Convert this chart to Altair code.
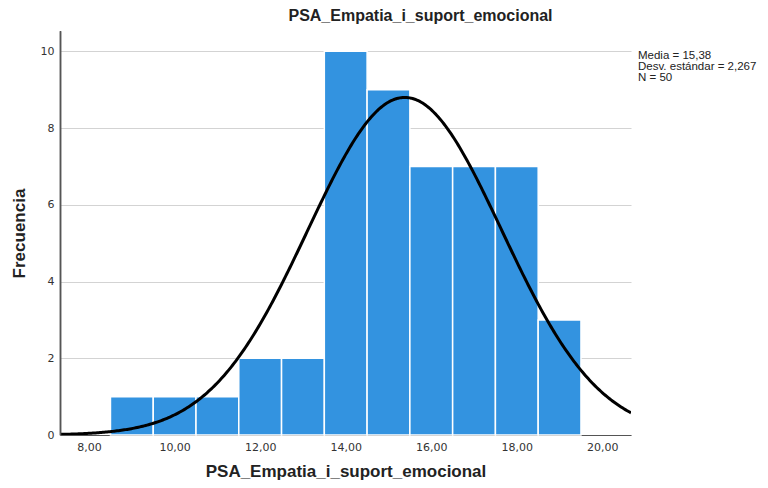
import altair as alt
import pandas as pd

bin_start = [8.5, 9.5, 10.5, 11.5, 12.5, 13.5, 14.5, 15.5, 16.5, 17.5, 18.5]
bin_end = [9.5, 10.5, 11.5, 12.5, 13.5, 14.5, 15.5, 16.5, 17.5, 18.5, 19.5]
counts = [1, 1, 1, 2, 2, 10, 9, 7, 7, 7, 3]
x_ticks = [8, 10, 12, 14, 16, 18, 20]
y_ticks = [0, 2, 4, 6, 8, 10]
mean_val = 15.38
sd_val = 2.267
n_val = 50
bin_width = 1.0
stats_lines = ["Media = 15,38", "Desv. estándar = 2,267", "N = 50"]

x_dom = [7.32, 20.67]
y_dom = [0, 10.53]

bars_df = pd.DataFrame({"a": bin_start, "b": bin_end, "c": counts})

xs = alt.Scale(domain=x_dom, nice=False, zero=False)
ys = alt.Scale(domain=y_dom, nice=False)

x_axis = alt.Axis(values=x_ticks, labelExpr="replace(format(datum.value, '.2f'), '.', ',')",
                  grid=False, ticks=False, domain=True, domainColor="#555555", domainWidth=1.2,
                  labelColor="#333333", labelFont="DejaVu Sans", labelFontSize=11, labelPadding=6,
                  title="PSA_Empatia_i_suport_emocional", titleFont="Liberation Sans",
                  titleFontSize=17, titleFontWeight="bold", titleColor="#222222", titlePadding=11)
y_axis = alt.Axis(values=y_ticks, grid=True, gridColor="#d3d3d3", gridWidth=1.2, ticks=False,
                  domain=True, domainColor="#555555", domainWidth=1.5, labelColor="#333333",
                  labelFont="DejaVu Sans", labelFontSize=11, labelPadding=6, title="Frecuencia",
                  titleFont="Liberation Sans", titleFontSize=17, titleFontWeight="bold",
                  titleColor="#222222", titlePadding=12)

bars = alt.Chart(bars_df).mark_bar(color="#3393e0", stroke="white", strokeWidth=1.5).encode(
    x=alt.X("a:Q", scale=xs, axis=x_axis),
    x2="b:Q",
    y=alt.Y("c:Q", scale=ys, axis=y_axis),
    y2=alt.datum(0),
)

curve = alt.Chart(alt.sequence(0, 401, 1, as_="i")).transform_calculate(
    x=f"{x_dom[0]} + datum.i * ({x_dom[1]} - {x_dom[0]}) / 400"
).transform_calculate(
    y=f"{n_val} * {bin_width} / ({sd_val} * sqrt(2 * PI)) * exp(-0.5 * pow((datum.x - {mean_val}) / {sd_val}, 2))"
).mark_line(color="black", strokeWidth=3, clip=True).encode(
    x=alt.X("x:Q", scale=xs, axis=x_axis),
    y=alt.Y("y:Q", scale=ys, axis=y_axis),
)

y_line = alt.Chart(pd.DataFrame({"k": [0]})).mark_rule(color="#555555", strokeWidth=1.5).encode(
    x=alt.value(0.5), y=alt.value(0), y2=alt.value(404),
)

stats = alt.Chart(pd.DataFrame({"k": [0]})).mark_text(
    text=stats_lines, align="left", baseline="top", font="Liberation Sans",
    fontSize=11.5, lineHeight=11, color="#222222").encode(
    x=alt.value(578),
    y=alt.value(19),
)

chart = alt.layer(bars, curve, y_line, stats).properties(
    width=571, height=404,
    title=alt.TitleParams("PSA_Empatia_i_suport_emocional", font="Liberation Sans", fontSize=16,
                          fontWeight="bold", color="#222222", anchor="middle", dx=75, offset=6),
    autosize=alt.AutoSizeParams(type="none"),
    padding={"left": 52, "top": 23, "right": 129, "bottom": 45},
).configure_view(stroke=None)

chart.save("out.html", embed_options={"renderer": "svg", "actions": False})
